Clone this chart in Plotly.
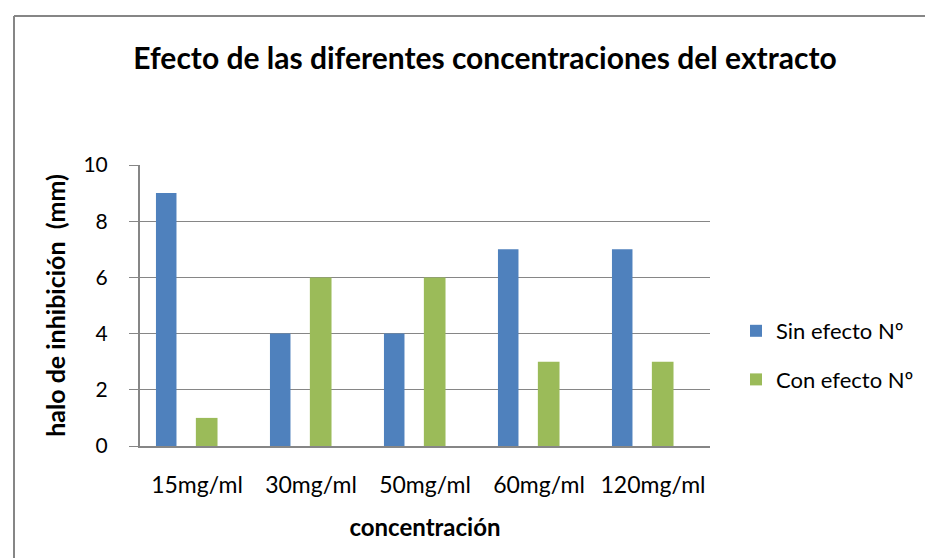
import plotly.graph_objects as go

categories = ["15mg/ml", "30mg/ml", "50mg/ml", "60mg/ml", "120mg/ml"]
sin_efecto = [9, 4, 4, 7, 7]
con_efecto = [1, 6, 6, 3, 3]
y_ticks = [0, 2, 4, 6, 8, 10]

FONT = "Lato, Carlito, sans-serif"
GRAY = "#868686"

fig = go.Figure()
fig.add_trace(go.Bar(
    x=categories, y=sin_efecto, name="Sin efecto Nº",
    marker=dict(color="#4F81BD", line=dict(width=0)),
    width=0.18, offset=-0.36, legendgroup="a",
))
fig.add_trace(go.Bar(
    x=categories, y=con_efecto, name="Con efecto Nº",
    marker=dict(color="#9BBB59", line=dict(width=0)),
    width=0.19, offset=-0.01, legendgroup="b",
))

L, R, T, B = 132, 702, 157, 438
W, H = 933, 558

def px2x(px):
    return (px - L) / (R - L)

def px2y(py):
    return (B - py) / (B - T)

fig.update_layout(
    width=W, height=H,
    margin=dict(l=L, r=W - R, t=T, b=H - B, pad=0),
    paper_bgcolor="white", plot_bgcolor="white",
    barmode="overlay",
    font=dict(family=FONT, size=20, color="#000000"),
    title=dict(
        text="<b>Efecto de las diferentes concentraciones del extracto</b>",
        font=dict(family=FONT, size=30, color="#000000"),
        x=477 / W, xanchor="center", xref="container",
        y=1 - 50 / H, yanchor="middle", yref="container",
    ),
    xaxis=dict(
        type="category", range=[-0.5, 4.5],
        showline=True, linecolor=GRAY, linewidth=2,
        ticks="", showgrid=False, zeroline=False,
        ticklabelstandoff=17,
        tickfont=dict(family=FONT, size=23),
        title=dict(text="<b>concentración</b>", font=dict(family=FONT, size=24), standoff=23),
    ),
    yaxis=dict(
        range=[0, 10], tickvals=y_ticks,
        showline=True, linecolor=GRAY, linewidth=2,
        ticks="outside", ticklen=9, tickcolor=GRAY, tickwidth=1,
        showgrid=True, gridcolor=GRAY, gridwidth=1, zeroline=False,
        ticklabelstandoff=17,
        tickfont=dict(family=FONT, size=21),
        title=dict(text="<b>halo de inhibición  (mm)</b>", font=dict(family=FONT, size=25), standoff=11),
    ),
    legend=dict(
        x=px2x(728), xanchor="left",
        y=px2y(302), yanchor="top",
        traceorder="grouped", tracegroupgap=17,
        font=dict(family=FONT, size=22),
        bgcolor="rgba(0,0,0,0)",
    ),
    shapes=[
        dict(type="line", xref="paper", yref="paper",
             x0=px2x(6), y0=px2y(H + 5), x1=px2x(6), y1=px2y(8),
             line=dict(color=GRAY, width=2)),
        dict(type="line", xref="paper", yref="paper",
             x0=px2x(6), y0=px2y(8), x1=px2x(W + 5), y1=px2y(8),
             line=dict(color=GRAY, width=2)),
    ],
)

fig.write_html("out.html")
